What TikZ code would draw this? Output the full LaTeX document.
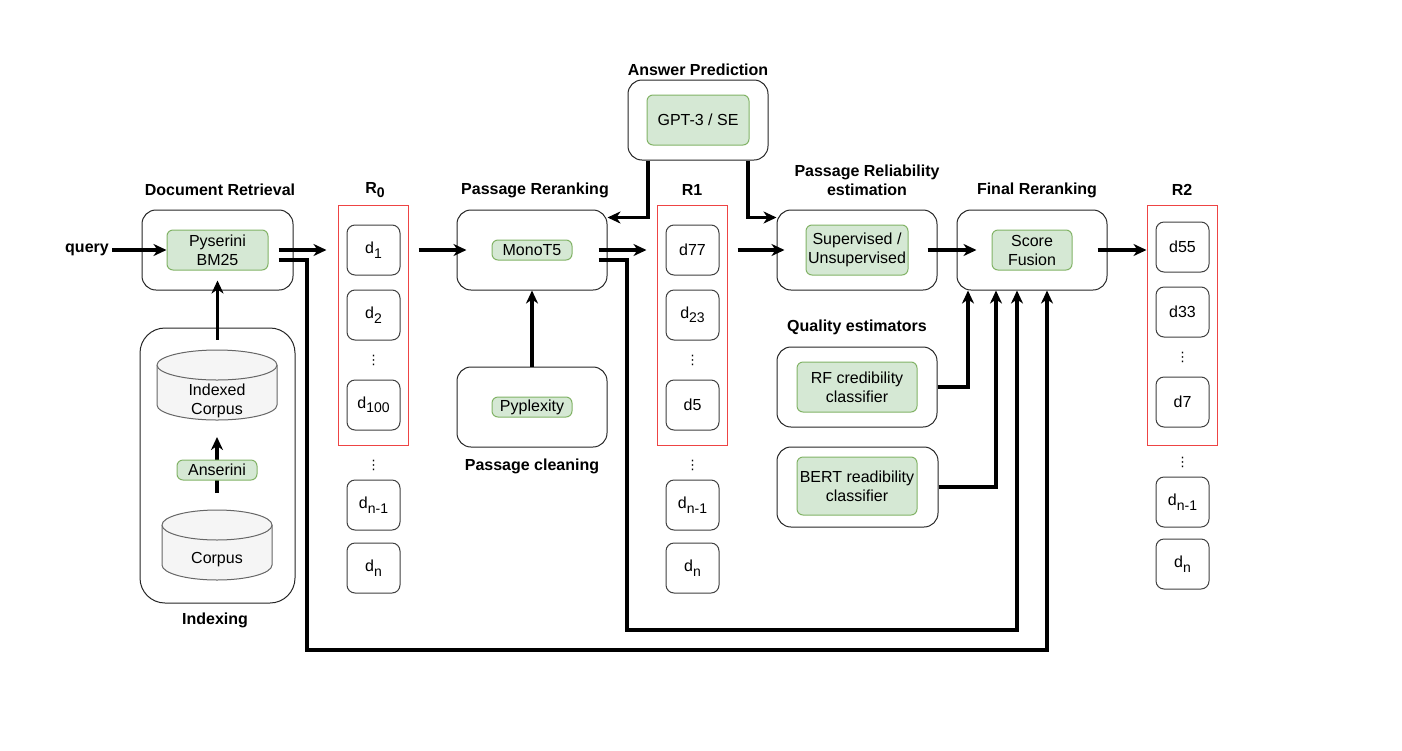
\documentclass[tikz,border=0pt]{standalone}
\usepackage{fontspec}
\setmainfont{Liberation Sans}
\newfontfamily\dotsfont{DejaVu Sans}
\usetikzlibrary{arrows.meta,calc}
\definecolor{toolfill}{HTML}{D5E8D4}
\definecolor{toolline}{HTML}{82B366}
\definecolor{cylfill}{HTML}{F5F5F5}
\definecolor{cylline}{HTML}{666666}
\definecolor{rlistred}{HTML}{EE4444}
\newcommand{\dsub}[1]{\raisebox{-4.5pt}{\fontsize{14}{14}\selectfont#1}}

\begin{document}
\begin{tikzpicture}[x=1pt,y=-1pt,
  every node/.style={font=\fontsize{16}{19}\selectfont},
  heading/.style={font=\fontsize{16}{19}\selectfont\bfseries,align=center},
  stage/.style={draw=black!85,line width=1pt,rounded corners=14pt,minimum width=150pt,minimum height=80pt},
  tool/.style={draw=toolline,fill=toolfill,line width=1pt,rounded corners=6pt,align=center,inner sep=0pt},
  doc/.style={draw=black!75,line width=1pt,rounded corners=8pt,minimum width=53pt,minimum height=50pt,inner sep=0pt},
  rlist/.style={draw=rlistred,line width=1pt,minimum width=70pt,minimum height=240pt},
  dbase/.style={draw=cylline,fill=cylfill,line width=1pt},
  dots/.style={font=\dotsfont\fontsize{13}{13}\selectfont,inner sep=0pt},
  arr/.style={line width=3.2pt,-{Stealth[length=13pt,width=12pt,inset=4pt]}}]
  \fill[white] (0,0) rectangle (1402,750);
  \useasboundingbox (0,0) rectangle (1402,750);

  \node[heading] (lblretr) at (220,190) {Document Retrieval};
  \node[stage,minimum width=151pt] (retr) at (217.5,250) {};
  \node[tool,minimum width=101pt,minimum height=40pt] (bm25) at (217.5,250) {Pyserini\\BM25};
  \node[heading] (query) at (87,250) {query};

  \node[draw=black!85,line width=1pt,rounded corners=25pt,minimum width=155pt,minimum height=275pt] (idxbox) at (217.5,465.5) {};
  \node[heading] (lblidx) at (215,620) {Indexing};
  % cylinders
  \draw[dbase] (157,365) -- (157,405) arc[start angle=180,end angle=0,x radius=60,y radius=15]
    -- (277,365) arc[start angle=0,end angle=-180,x radius=60,y radius=15] -- cycle;
  \draw[dbase] (157,365) arc[start angle=180,end angle=0,x radius=60,y radius=15];
  \draw[dbase] (162,525) -- (162,565) arc[start angle=180,end angle=0,x radius=55,y radius=15]
    -- (272,525) arc[start angle=0,end angle=-180,x radius=55,y radius=15] -- cycle;
  \draw[dbase] (162,525) arc[start angle=180,end angle=0,x radius=55,y radius=15];
  \coordinate (idxbot) at (217,420);
  \coordinate (corptop) at (217,510);
  \node[align=center] (idx) at (217,401) {Indexed\\Corpus};
  \node (corpus) at (217,560) {Corpus};
  \draw[arr] ([yshift=17pt]corptop) -- ([yshift=-17pt]idxbot);
  \node[tool,minimum width=80pt,minimum height=20pt] (anserini) at (217,470) {Anserini};

  \node[heading] (lblr0) at (375,190) {R\dsub{0}};
  \node[rlist] (r0) at (373,325) {};
  \node[doc] (r0a) at (373.5,250) {d\dsub{1}};
  \node[doc] (r0b) at (373.5,315) {d\dsub{2}};
  \node[dots] (r0c) at (373.5,360) {⋮};
  \node[doc] (r0d) at (373.5,405) {d\dsub{100}};
  \node[dots] (r0e) at (373.5,465) {⋮};
  \node[doc] (r0f) at (373.5,505) {d\dsub{n-1}};
  \node[doc] (r0g) at (373.5,568) {d\dsub{n}};

  \node[heading] (lblrerank) at (535,190) {Passage Reranking};
  \node[stage] (rerank) at (532,250) {};
  \node[tool,minimum width=80pt,minimum height=20pt] (mono) at (532,250) {MonoT5};
  \node[stage] (clean) at (532,407) {};
  \node[tool,minimum width=80pt,minimum height=20pt] (pyplex) at (532,407) {Pyplexity};
  \node[heading] (lblclean) at (532,466) {Passage cleaning};

  \node[heading] (lblr1) at (692,190) {R1};
  \node[rlist] (r1) at (692,325) {};
  \node[doc] (r1a) at (692.5,250) {d77};
  \node[doc] (r1b) at (692.5,315) {d\dsub{23}};
  \node[dots] (r1c) at (692.5,360) {⋮};
  \node[doc] (r1d) at (692.5,405) {d5};
  \node[dots] (r1e) at (692.5,465) {⋮};
  \node[doc] (r1f) at (692.5,505) {d\dsub{n-1}};
  \node[doc] (r1g) at (692.5,568) {d\dsub{n}};

  \node[heading] (lblans) at (698,70) {Answer Prediction};
  \node[stage,minimum width=140pt] (ans) at (698,120) {};
  \node[tool,minimum width=102pt,minimum height=50pt] (gpt) at (698,120) {GPT-3 / SE};

  \node[heading] (lblrel) at (867,180) {Passage Reliability\\estimation};
  \node[stage,minimum width=160pt] (rel) at (857,250) {};
  \node[tool,minimum width=102pt,minimum height=50pt] (sup) at (857,250) {Supervised /\\Unsupervised};

  \node[heading] (lblqual) at (857,327) {Quality estimators};
  \node[stage,minimum width=160pt] (rf) at (857,387) {};
  \node[tool,minimum width=120pt,minimum height=50pt] (rfc) at (857,387) {RF credibility\\classifier};
  \node[stage,minimum width=161pt] (bert) at (857.5,487) {};
  \node[tool,minimum width=120pt,minimum height=58pt] (bertc) at (857,486) {BERT readibility\\classifier};

  \node[heading] (lblfin) at (1037,190) {Final Reranking};
  \node[stage] (fin) at (1032,250) {};
  \node[tool,minimum width=80pt,minimum height=40pt] (fusion) at (1032,250) {Score\\Fusion};

  \node[heading] (lblr2) at (1182,190) {R2};
  \node[rlist] (r2) at (1182,325) {};
  \node[doc] (r2a) at (1182.5,247) {d55};
  \node[doc] (r2b) at (1182.5,312) {d33};
  \node[dots] (r2c) at (1182.5,357) {⋮};
  \node[doc] (r2d) at (1182.5,402) {d7};
  \node[dots] (r2e) at (1182.5,462) {⋮};
  \node[doc] (r2f) at (1182.5,502) {d\dsub{n-1}};
  \node[doc] (r2g) at (1182.5,564) {d\dsub{n}};

  \coordinate (loopout) at (307,650);
  \coordinate (loopin) at (627,630);

  \draw[arr] (query) -- (bm25);
  \draw[arr] ([yshift=-12pt]idxbox.north) -- ([yshift=-10pt]bm25.south);
  \draw[arr] ($(bm25.east)+(10,0)$) -- ($(r0.west |- r0a)+(-11,0)$);
  \draw[arr] ($(bm25.east)+(10,10)$) -| (loopout) -| ($(fin.south)+(15,0)$);
  \draw[arr] ($(r0.east |- r0a)+(10,0)$) -- ($(rerank.west)+(10,0)$);
  \draw[arr] (clean) -- (rerank);
  \draw[arr] ($(mono.east)+(26,0)$) -- ($(r1.west |- r1a)+(-10,0)$);
  \draw[arr] ($(mono.east)+(26,10)$) -| (loopin) -| ($(fin.south)+(-15,0)$);
  \draw[arr] ([xshift=-50pt]ans.south) |- ([yshift=-8pt]rerank.north east);
  \draw[arr] ([xshift=50pt]ans.south) |- ([yshift=-8pt]rel.north west);
  \draw[arr] ($(r1.east |- r1a)+(10,0)$) -- ($(rel.west)+(8,0)$);
  \draw[arr] ($(rel.east)+(-10,0)$) -- ($(fin.west)+(20,0)$);
  \draw[arr] (rf.east) -| ($(fin.south)+(-64,0)$);
  \draw[arr] (bert.east) -| ($(fin.south)+(-36,0)$);
  \draw[arr] ($(fin.east)+(-10,0)$) -- (r2.west |- fin);
\end{tikzpicture}
\end{document}
